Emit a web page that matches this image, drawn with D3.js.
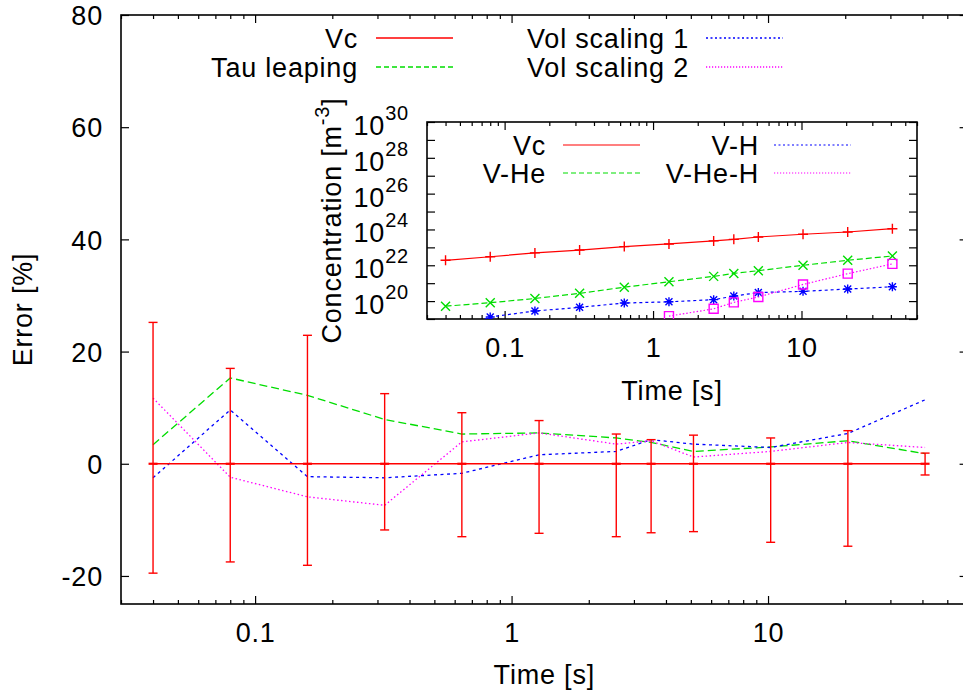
<!DOCTYPE html>
<html><head><meta charset="utf-8">
<script src="https://cdn.jsdelivr.net/npm/d3@7"></script>
<style>
html,body{margin:0;padding:0;background:#fff;}
svg{display:block;font-family:"Liberation Sans",Arial,sans-serif;}
svg text{letter-spacing:0.8px;}
</style></head><body>
<svg id="chart" width="963" height="697"></svg>
<script>
// ---------- main plot data ----------
const times = [0.04, 0.08, 0.16, 0.32, 0.64, 1.28, 2.56, 3.5, 5.12, 10.24, 20.48, 40.96];
const vcError = [0, 0, 0, 0, 0, 0, 0, 0, 0, 0, 0, 0];
const vcErrLow = [-19.5, -17.5, -18.1, -11.8, -13.0, -12.4, -13.0, -12.3, -12.1, -14.0, -14.7, -2.0];
const vcErrHigh = [25.2, 17.0, 22.9, 12.5, 9.1, 7.7, 5.3, 4.3, 5.1, 4.6, 5.9, 1.9];
const tauLeaping = [3.4, 15.3, 12.2, 7.9, 5.3, 5.5, 4.6, 3.8, 2.2, 3.0, 4.1, 1.8];
const volScaling1 = [-2.5, 9.6, -2.3, -2.5, -1.7, 1.6, 2.2, 4.3, 3.5, 2.9, 5.4, 11.4];
const volScaling2 = [11.7, -2.4, -5.9, -7.4, 3.9, 5.5, 3.5, 4.1, 1.2, 2.2, 3.8, 2.9];
const mainYTicks = [-20, 0, 20, 40, 60, 80];
const mainYLabels = ["-20", "0", "20", "40", "60", "80"];
const mainXLabels = [0.1, 1, 10];
const mainXLabelText = ["0.1", "1", "10"];
const mainLegend = ["Vc", "Tau leaping", "Vol scaling 1", "Vol scaling 2"];

// ---------- inset data (concentration, m^-3) ----------
const concVc = [1.9e22, 3.0e22, 4.9e22, 7.1e22, 1.1e23, 1.55e23, 2.3e23, 2.8e23, 3.8e23, 5.4e23, 7.2e23, 1.1e24];
const concVHe = [5.2e19, 8.1e19, 1.4e20, 2.7e20, 6.0e20, 1.2e21, 2.4e21, 3.5e21, 5.0e21, 1.0e22, 1.9e22, 3.3e22];
const concVH = [1.3e18, 1.3e19, 2.8e19, 4.5e19, 7.8e19, 9.1e19, 1.2e20, 1.9e20, 3.0e20, 3.5e20, 4.7e20, 6.3e20];
const concVHeH = [null, null, null, null, null, 1.45e19, 3.7e19, 8.5e19, 1.7e20, 8.5e20, 3.4e21, 1.2e22];
const insetYTicks = [1e19, 1e20, 1e21, 1e22, 1e23, 1e24, 1e25, 1e26, 1e27, 1e28, 1e29, 1e30];
const insetYLabelExps = ["20", "22", "24", "26", "28", "30"];
const insetYLabelVals = [1e20, 1e22, 1e24, 1e26, 1e28, 1e30];
const insetLegend = ["Vc", "V-He", "V-H", "V-He-H"];

const FS = 27;
const RED = "#ff0000", GREEN = "#00dd00", BLUE = "#0000ff", MAG = "#ff00ff";
const FONT = '"Liberation Sans",Arial,sans-serif';

const svg = d3.select("#chart");

// ================= MAIN PLOT =================
const M = {left: 121, right: 967.6, top: 15, bottom: 604};
const x = d3.scaleLog().domain([0.03, 60]).range([M.left, M.right]);
const y = d3.scaleLinear().domain([-25, 80]).range([M.bottom, M.top]);

const isMajor = v => mainXLabels.includes(+v.toPrecision(3));
const allXTicks = x.ticks();
const majorX = allXTicks.filter(isMajor);
const minorX = allXTicks.filter(v => !isMajor(v));
const xLabelFmt = d => mainXLabelText[mainXLabels.indexOf(+d.toPrecision(3))];

function styleAxis(g) {
  g.select(".domain").remove();
  g.selectAll("line").attr("stroke", "#000").attr("stroke-width", 1.2);
}

// bottom minor/major
svg.append("g").attr("transform", `translate(0,${M.bottom})`)
  .call(d3.axisBottom(x).tickValues(minorX).tickSize(-4).tickFormat(""))
  .call(styleAxis);
const bx = svg.append("g").attr("transform", `translate(0,${M.bottom})`)
  .call(d3.axisBottom(x).tickValues(majorX).tickSize(-8).tickFormat(xLabelFmt))
  .call(styleAxis);
bx.selectAll("text").attr("y", 38).attr("dy", null).attr("font-size", FS)
  .attr("font-family", FONT).attr("fill", "#000");
// top
svg.append("g").attr("transform", `translate(0,${M.top})`)
  .call(d3.axisTop(x).tickValues(minorX).tickSize(-4).tickFormat("")).call(styleAxis);
svg.append("g").attr("transform", `translate(0,${M.top})`)
  .call(d3.axisTop(x).tickValues(majorX).tickSize(-8).tickFormat("")).call(styleAxis);
// left
const ly = svg.append("g").attr("transform", `translate(${M.left},0)`)
  .call(d3.axisLeft(y).tickValues(mainYTicks).tickSize(-8)
    .tickFormat(d => mainYLabels[mainYTicks.indexOf(d)]))
  .call(styleAxis);
ly.selectAll("text").attr("x", -18).attr("dy", "0.36em").attr("font-size", FS)
  .attr("font-family", FONT).attr("fill", "#000");
// right
svg.append("g").attr("transform", `translate(${M.right},0)`)
  .call(d3.axisRight(y).tickValues(mainYTicks).tickSize(-8).tickFormat("")).call(styleAxis);

// frame
svg.append("rect").attr("x", M.left).attr("y", M.top)
  .attr("width", M.right - M.left).attr("height", M.bottom - M.top)
  .attr("fill", "none").attr("stroke", "#000").attr("stroke-width", 1.6);

// axis titles
svg.append("text").attr("x", (M.left + M.right) / 2).attr("y", 684)
  .attr("text-anchor", "middle").attr("font-size", FS).text("Time [s]");
svg.append("text").attr("transform", `translate(32,${(M.top + M.bottom) / 2}) rotate(-90)`)
  .attr("text-anchor", "middle").attr("font-size", FS).text("Error [%]");

// series lines
const idx = d3.range(times.length);
const lineMain = arr => d3.line().x(i => x(times[i])).y(i => y(arr[i]))(idx);

svg.append("path").attr("d", lineMain(tauLeaping)).attr("fill", "none")
  .attr("stroke", GREEN).attr("stroke-width", 1.3).attr("stroke-dasharray", "8,4");
svg.append("path").attr("d", lineMain(volScaling1)).attr("fill", "none")
  .attr("stroke", BLUE).attr("stroke-width", 1.3).attr("stroke-dasharray", "3,3.5");
svg.append("path").attr("d", lineMain(volScaling2)).attr("fill", "none")
  .attr("stroke", MAG).attr("stroke-width", 1.3).attr("stroke-dasharray", "1.5,2.5");
svg.append("path").attr("d", lineMain(vcError)).attr("fill", "none")
  .attr("stroke", RED).attr("stroke-width", 1.5);

// error bars
const eb = svg.append("g").attr("stroke", RED).attr("stroke-width", 1.4).attr("fill", "none");
idx.forEach(i => {
  const cx = x(times[i]);
  const y0 = y(vcErrLow[i]), y1 = y(vcErrHigh[i]), yc = y(vcError[i]);
  eb.append("line").attr("x1", cx).attr("x2", cx).attr("y1", y0).attr("y2", y1);
  eb.append("line").attr("x1", cx - 4.5).attr("x2", cx + 4.5).attr("y1", y0).attr("y2", y0);
  eb.append("line").attr("x1", cx - 4.5).attr("x2", cx + 4.5).attr("y1", y1).attr("y2", y1);
  eb.append("line").attr("x1", cx - 4.5).attr("x2", cx + 4.5).attr("y1", yc).attr("y2", yc).attr("stroke-width", 2.2);
});

// main legend
const legStyles = [
  {c: RED, d: null}, {c: GREEN, d: "5,3"}, {c: BLUE, d: "2,2.5"}, {c: MAG, d: "1.2,1.8"}
];
const legPos = [
  {tx: 358, sx: 376, yy: 38}, {tx: 358, sx: 376, yy: 67},
  {tx: 689, sx: 706, yy: 38}, {tx: 689, sx: 706, yy: 67}
];
mainLegend.forEach((name, k) => {
  const p = legPos[k], s = legStyles[k];
  svg.append("text").attr("x", p.tx).attr("y", p.yy + 9.5).attr("text-anchor", "end")
    .attr("font-size", FS).text(name);
  svg.append("line").attr("x1", p.sx).attr("x2", p.sx + 77).attr("y1", p.yy).attr("y2", p.yy)
    .attr("stroke", s.c).attr("stroke-width", 1.3).attr("stroke-dasharray", s.d);
});

// ================= INSET =================
const I = {left: 427, right: 917, top: 122, bottom: 319};
const xi = d3.scaleLog().domain([0.03, 60]).range([I.left, I.right]);
const yi = d3.scaleLog().domain([1e19, 1e30]).range([I.bottom, I.top]);

svg.append("rect").attr("x", I.left).attr("y", I.top).attr("width", I.right - I.left)
  .attr("height", I.bottom - I.top).attr("fill", "#fff");

svg.append("g").attr("transform", `translate(0,${I.bottom})`)
  .call(d3.axisBottom(xi).tickValues(minorX).tickSize(-4).tickFormat("")).call(styleAxis);
const bxi = svg.append("g").attr("transform", `translate(0,${I.bottom})`)
  .call(d3.axisBottom(xi).tickValues(majorX).tickSize(-8).tickFormat(xLabelFmt))
  .call(styleAxis);
bxi.selectAll("text").attr("y", 38).attr("dy", null).attr("font-size", FS)
  .attr("font-family", FONT).attr("fill", "#000");
svg.append("g").attr("transform", `translate(0,${I.top})`)
  .call(d3.axisTop(xi).tickValues(minorX).tickSize(-4).tickFormat("")).call(styleAxis);
svg.append("g").attr("transform", `translate(0,${I.top})`)
  .call(d3.axisTop(xi).tickValues(majorX).tickSize(-8).tickFormat("")).call(styleAxis);
svg.append("g").attr("transform", `translate(${I.left},0)`)
  .call(d3.axisLeft(yi).tickValues(insetYTicks).tickSize(-8).tickFormat("")).call(styleAxis);
svg.append("g").attr("transform", `translate(${I.right},0)`)
  .call(d3.axisRight(yi).tickValues(insetYTicks).tickSize(-8).tickFormat("")).call(styleAxis);

// inset y tick labels with superscripts
insetYLabelVals.forEach((v, k) => {
  const t = svg.append("text").attr("x", 409).attr("y", yi(v) + 13)
    .attr("text-anchor", "end").attr("font-size", FS);
  t.append("tspan").text("10");
  t.append("tspan").attr("dy", -15).attr("font-size", 20).text(insetYLabelExps[k]);
});

svg.append("rect").attr("x", I.left).attr("y", I.top)
  .attr("width", I.right - I.left).attr("height", I.bottom - I.top)
  .attr("fill", "none").attr("stroke", "#000").attr("stroke-width", 1.6);

svg.append("text").attr("x", (I.left + I.right) / 2).attr("y", 400)
  .attr("text-anchor", "middle").attr("font-size", FS).text("Time [s]");
const yl = svg.append("text").attr("transform", `translate(341,${(I.top + I.bottom) / 2}) rotate(-90)`)
  .attr("text-anchor", "middle").attr("font-size", FS);
yl.append("tspan").text("Concentration [m");
yl.append("tspan").attr("dy", -12).attr("font-size", 20).text("-3");
yl.append("tspan").attr("dy", 12).text("]");

svg.append("clipPath").attr("id", "insetClip").append("rect")
  .attr("x", I.left).attr("y", I.top).attr("width", I.right - I.left).attr("height", I.bottom - I.top);
const ig = svg.append("g").attr("clip-path", "url(#insetClip)");

const symbols = {
  plus: "M-5,0H5M0,-5V5",
  cross: "M-4.5,-4.5L4.5,4.5M-4.5,4.5L4.5,-4.5",
  star: "M-4.5,0H4.5M0,-4.5V4.5M-3.5,-3.5L3.5,3.5M-3.5,3.5L3.5,-3.5",
  square: "M-4.5,-4.5H4.5V4.5H-4.5Z"
};
const insetSeries = [
  {vals: concVc, c: RED, d: null, sym: "plus"},
  {vals: concVHe, c: GREEN, d: "6,3", sym: "cross"},
  {vals: concVH, c: BLUE, d: "3,3", sym: "star"},
  {vals: concVHeH, c: MAG, d: "1.5,2", sym: "square"}
];
insetSeries.forEach(s => {
  const pts = idx.filter(i => s.vals[i] != null);
  const ln = d3.line().x(i => xi(times[i])).y(i => yi(s.vals[i]));
  ig.append("path").attr("d", ln(pts)).attr("fill", "none").attr("stroke", s.c)
    .attr("stroke-width", 1.2).attr("stroke-dasharray", s.d);
  pts.forEach(i => {
    ig.append("path").attr("d", symbols[s.sym])
      .attr("transform", `translate(${xi(times[i])},${yi(s.vals[i])})`)
      .attr("fill", "none").attr("stroke", s.c).attr("stroke-width", 1.4);
  });
});

// inset legend
const ilegPos = [
  {tx: 546, sx: 563, yy: 145}, {tx: 546, sx: 563, yy: 173},
  {tx: 759, sx: 774, yy: 145}, {tx: 759, sx: 774, yy: 173}
];
const ilegStyles = [
  {c: RED, d: null}, {c: GREEN, d: "5,3"}, {c: BLUE, d: "2,2.5"}, {c: MAG, d: "1.2,1.8"}
];
insetLegend.forEach((name, k) => {
  const p = ilegPos[k], s = ilegStyles[k];
  svg.append("text").attr("x", p.tx).attr("y", p.yy + 9.5).attr("text-anchor", "end")
    .attr("font-size", FS).text(name);
  svg.append("line").attr("x1", p.sx).attr("x2", p.sx + 77).attr("y1", p.yy).attr("y2", p.yy)
    .attr("stroke", s.c).attr("stroke-width", 1.2).attr("stroke-dasharray", s.d);
});
</script>
</body></html>
